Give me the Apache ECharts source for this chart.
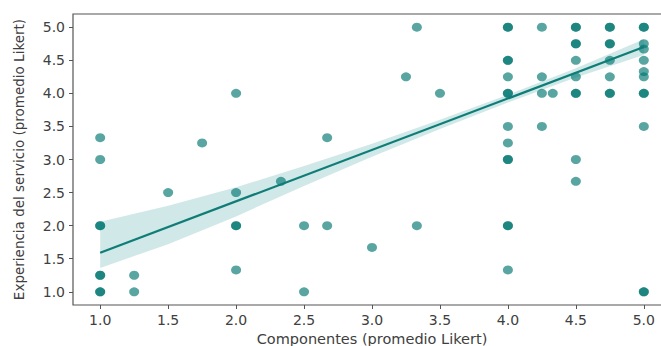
<!DOCTYPE html>
<html>
<head>
<meta charset="utf-8">
<script src="https://cdn.jsdelivr.net/npm/echarts@6/dist/echarts.min.js"></script>
<style>
  html, body { margin: 0; padding: 0; background: #fff; overflow: hidden; }
  #chart { width: 661px; height: 346px; overflow: hidden; }
</style>
</head>
<body>
<div id="chart"></div>
<script>
// puntos (componentes, experiencia); repetidos = respuestas superpuestas
const compX = [
  1.0, 1.0, 1.0, 1.0, 1.0, 1.0, 1.0, 1.0,
  1.25, 1.25,
  1.5,
  1.75,
  2.0, 2.0, 2.0, 2.0, 2.0,
  2.33,
  2.5, 2.5,
  2.67, 2.67,
  3.0,
  3.25,
  3.33, 3.33,
  3.5,
  4.0, 4.0, 4.0, 4.0, 4.0, 4.0, 4.0, 4.0, 4.0, 4.0, 4.0, 4.0, 4.0, 4.0,
  4.25, 4.25, 4.25, 4.25,
  4.33,
  4.5, 4.5, 4.5, 4.5, 4.5, 4.5, 4.5, 4.5, 4.5, 4.5,
  4.75, 4.75, 4.75, 4.75, 4.75, 4.75, 4.75, 4.75,
  5.0, 5.0, 5.0, 5.0, 5.0, 5.0, 5.0, 5.0, 5.0, 5.0, 5.0, 5.0
];
const expY = [
  3.33, 3.0, 2.0, 2.0, 1.25, 1.25, 1.0, 1.0,
  1.25, 1.0,
  2.5,
  3.25,
  4.0, 2.5, 2.0, 2.0, 1.33,
  2.67,
  2.0, 1.0,
  3.33, 2.0,
  1.67,
  4.25,
  5.0, 2.0,
  4.0,
  5.0, 5.0, 4.5, 4.5, 4.25, 4.0, 4.0, 3.5, 3.25, 3.0, 3.0, 2.0, 2.0, 1.33,
  5.0, 4.25, 4.0, 3.5,
  4.0,
  5.0, 5.0, 4.75, 4.75, 4.5, 4.25, 4.0, 4.0, 3.0, 2.67,
  5.0, 5.0, 4.75, 4.75, 4.5, 4.25, 4.0, 4.0,
  5.0, 5.0, 4.75, 4.67, 4.5, 4.33, 4.25, 4.0, 4.0, 3.5, 1.0, 1.0
];

// recta de regresion y banda de confianza
const fitX = [1.0, 5.0];
const fitY = [1.59, 4.70];
const bandX = [1.0, 1.5, 2.0, 2.5, 3.0, 3.5, 4.0, 4.5, 5.0];
const bandUpper = [2.06, 2.30, 2.58, 2.90, 3.24, 3.60, 3.98, 4.38, 4.82];
const bandLower = [1.36, 1.72, 2.14, 2.60, 3.04, 3.46, 3.86, 4.24, 4.58];

const xTicks = [1.0, 1.5, 2.0, 2.5, 3.0, 3.5, 4.0, 4.5, 5.0];
const yTicks = [1.0, 1.5, 2.0, 2.5, 3.0, 3.5, 4.0, 4.5, 5.0];

const font = 'DejaVu Sans';
const axisColor = '#555';
const textColor = '#404040';

const chart = echarts.init(document.getElementById('chart'), null, { renderer: 'svg' });

const option = {
  animation: false,
  grid: {
    left: 73, top: 14, bottom: 41, right: -10,
    outerBoundsMode: 'none',
    show: true, borderColor: axisColor, borderWidth: 1.2
  },
  xAxis: {
    type: 'value', min: 0.8, max: 5.2,
    name: 'Componentes (promedio Likert)',
    nameLocation: 'middle', nameGap: 21,
    nameTextStyle: { fontFamily: font, fontSize: 14.5, color: textColor },
    axisLine: { show: false },
    splitLine: { show: false },
    axisTick: { show: true, customValues: xTicks, length: 4, lineStyle: { color: axisColor } },
    axisLabel: {
      customValues: xTicks, margin: 8,
      fontFamily: font, fontSize: 14, color: textColor,
      formatter: v => v.toFixed(1)
    }
  },
  yAxis: {
    type: 'value', min: 0.8, max: 5.2,
    name: 'Experiencia del servicio (promedio Likert)',
    nameLocation: 'middle', nameGap: 47, nameRotate: 90,
    nameTextStyle: { fontFamily: font, fontSize: 13.5, color: textColor },
    axisLine: { show: false },
    splitLine: { show: false },
    axisTick: { show: true, customValues: yTicks, length: 4, lineStyle: { color: axisColor } },
    axisLabel: {
      customValues: yTicks, margin: 8,
      fontFamily: font, fontSize: 14, color: textColor,
      formatter: v => v.toFixed(1)
    }
  },
  series: [
    {
      type: 'scatter',
      data: compX.map((x, i) => [x, expY[i]]),
      symbol: 'circle',
      symbolSize: [10, 9],
      itemStyle: { color: 'rgba(0,118,112,0.82)' },
      z: 2
    },
    {
      type: 'custom',
      data: bandX.map((x, i) => [x, bandUpper[i], bandLower[i]]),
      encode: { x: 0, y: [1, 2] },
      renderItem: (params, api) => {
        if (params.dataIndex !== 0) return;
        const pts = [];
        for (let i = 0; i < bandX.length; i++) pts.push(api.coord([bandX[i], bandUpper[i]]));
        for (let i = bandX.length - 1; i >= 0; i--) pts.push(api.coord([bandX[i], bandLower[i]]));
        return { type: 'polygon', shape: { points: pts }, style: { fill: 'rgba(0,128,128,0.18)' } };
      },
      z: 3
    },
    {
      type: 'line',
      data: fitX.map((x, i) => [x, fitY[i]]),
      symbol: 'none',
      lineStyle: { color: '#0f7d77', width: 2.2 },
      z: 4
    }
  ]
};
chart.setOption(option);
</script>
</body>
</html>
